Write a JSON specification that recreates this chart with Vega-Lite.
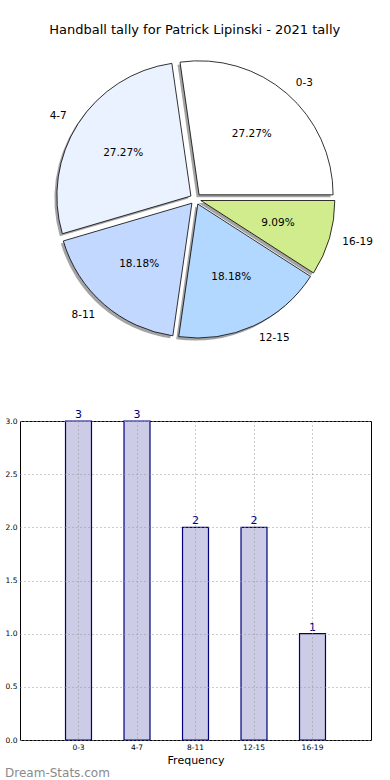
{
  "$schema": "https://vega.github.io/schema/vega-lite/v6.json",
  "background": "white",
  "padding": {"left": 4, "top": 24, "right": 0, "bottom": 0},
  "title": {"text": "Handball tally for Patrick Lipinski - 2021 tally", "font": "DejaVu Sans", "fontSize": 13, "fontWeight": "normal", "color": "black", "anchor": "middle", "offset": 13, "dx": 6},
  "datasets": {
    "tally": [
      {"label": "0-3", "count": 3, "idx": 1, "pct": "27.27%"},
      {"label": "4-7", "count": 3, "idx": 2, "pct": "27.27%"},
      {"label": "8-11", "count": 2, "idx": 3, "pct": "18.18%"},
      {"label": "12-15", "count": 2, "idx": 4, "pct": "18.18%"},
      {"label": "16-19", "count": 1, "idx": 5, "pct": "9.09%"}
    ]
  },
  "bounds": "flush",
  "spacing": 73,
  "config": {"font": "DejaVu Sans", "view": {"stroke": null}},
  "vconcat": [
    {
      "width": 351,
      "height": 298,
      "data": {"name": "tally"},
      "transform": [
        {"stack": "count", "groupby": [], "sort": [{"field": "idx", "order": "descending"}], "as": ["t0", "t1"]}
      ],
      "encoding": {
        "theta": {"field": "t0", "type": "quantitative", "scale": {"domain": [0, 11], "range": [1.5708, 7.854]}},
        "theta2": {"field": "t1"}
      },
      "layer": [
        {"transform": [{"filter": "datum.label == '0-3'"}], "mark": {"type": "arc", "radius": 134, "xOffset": 1.1, "yOffset": -1.7, "fill": "#4a4a4a", "opacity": 0.5}},
        {"transform": [{"filter": "datum.label == '4-7'"}], "mark": {"type": "arc", "radius": 134, "xOffset": -7.1, "yOffset": -0.5, "fill": "#4a4a4a", "opacity": 0.5}},
        {"transform": [{"filter": "datum.label == '8-11'"}], "mark": {"type": "arc", "radius": 134, "xOffset": -6.1, "yOffset": 6.7, "fill": "#4a4a4a", "opacity": 0.5}},
        {"transform": [{"filter": "datum.label == '12-15'"}], "mark": {"type": "arc", "radius": 134, "xOffset": -0.2, "yOffset": 7.5, "fill": "#4a4a4a", "opacity": 0.5}},
        {"transform": [{"filter": "datum.label == '16-19'"}], "mark": {"type": "arc", "radius": 134, "xOffset": 2.8, "yOffset": 4.0, "fill": "#4a4a4a", "opacity": 0.5}},
        {"transform": [{"filter": "datum.label == '0-3'"}], "mark": {"type": "arc", "radius": 134, "xOffset": 3.6, "yOffset": -4.2, "fill": "#ffffff", "stroke": "black", "strokeWidth": 0.8}},
        {"transform": [{"filter": "datum.label == '4-7'"}], "mark": {"type": "arc", "radius": 134, "xOffset": -4.6, "yOffset": -3.0, "fill": "#eaf1ff", "stroke": "black", "strokeWidth": 0.8}},
        {"transform": [{"filter": "datum.label == '8-11'"}], "mark": {"type": "arc", "radius": 134, "xOffset": -3.6, "yOffset": 4.2, "fill": "#c3d8ff", "stroke": "black", "strokeWidth": 0.8}},
        {"transform": [{"filter": "datum.label == '12-15'"}], "mark": {"type": "arc", "radius": 134, "xOffset": 2.3, "yOffset": 5.0, "fill": "#b3d8ff", "stroke": "black", "strokeWidth": 0.8}},
        {"transform": [{"filter": "datum.label == '16-19'"}], "mark": {"type": "arc", "radius": 134, "xOffset": 5.3, "yOffset": 1.5, "fill": "#d0ec8c", "stroke": "black", "strokeWidth": 0.8}},
        {
          "mark": {"type": "text", "radius": 86, "fontSize": 10.5, "color": "black"},
          "encoding": {
            "theta": {"field": "count", "type": "quantitative", "stack": true, "scale": {"domain": [0, 11], "range": [1.5708, 7.854]}},
            "theta2": null,
            "order": {"field": "idx", "sort": "descending"},
            "text": {"field": "pct"}
          }
        },
        {
          "mark": {"type": "text", "radius": 153, "fontSize": 10.5, "color": "black", "align": "left", "baseline": "middle"},
          "encoding": {
            "theta": {"field": "count", "type": "quantitative", "stack": true, "scale": {"domain": [0, 11], "range": [1.5708, 7.854]}},
            "theta2": null,
            "order": {"field": "idx", "sort": "descending"},
            "text": {"condition": {"test": "datum.label != '4-7' && datum.label != '8-11'", "field": "label"}, "value": ""}
          }
        },
        {
          "mark": {"type": "text", "radius": 153, "fontSize": 10.5, "color": "black", "align": "right", "baseline": "middle"},
          "encoding": {
            "theta": {"field": "count", "type": "quantitative", "stack": true, "scale": {"domain": [0, 11], "range": [1.5708, 7.854]}},
            "theta2": null,
            "order": {"field": "idx", "sort": "descending"},
            "text": {"condition": {"test": "datum.label == '4-7' || datum.label == '8-11'", "field": "label"}, "value": ""}
          }
        }
      ]
    },
    {
      "width": 351,
      "height": 319,
      "view": {"stroke": "black", "strokeWidth": 1},
      "title": {"text": "Dream-Stats.com", "orient": "bottom", "anchor": "start", "frame": "bounds", "fontSize": 12, "fontWeight": "normal", "color": "#8a8a8a", "offset": 2},
      "data": {"name": "tally"},
      "encoding": {
        "x": {
          "field": "label", "type": "nominal", "sort": ["0-3", "4-7", "8-11", "12-15", "16-19"],
          "scale": {"paddingInner": 0.556, "paddingOuter": 0.778},
          "axis": {"title": "Frequency", "titleFontSize": 11, "titleFontWeight": "normal", "titleColor": "black", "titlePadding": 4, "labelFontSize": 7.5, "labelColor": "black", "labelAngle": 0, "labelPadding": 3, "ticks": false, "domain": false, "grid": true, "gridColor": "#999999", "gridDash": [1, 3], "bandPosition": 0.5, "zindex": 1}
        },
        "y": {
          "field": "count", "type": "quantitative",
          "scale": {"domain": [0, 3], "nice": false},
          "axis": {"title": null, "values": [0, 0.5, 1, 1.5, 2, 2.5, 3], "format": ".1f", "labelFontSize": 7.5, "labelColor": "black", "labelPadding": 3, "ticks": false, "domain": false, "grid": true, "gridColor": "#999999", "gridDash": [1, 3], "zindex": 1}
        }
      },
      "layer": [
        {"mark": {"type": "bar", "fill": "#ccccE6", "stroke": "#000080", "strokeWidth": 1.2}},
        {"mark": {"type": "text", "color": "#000080", "fontSize": 11, "baseline": "bottom", "dy": -1}, "encoding": {"text": {"field": "count"}}}
      ]
    }
  ]
}
